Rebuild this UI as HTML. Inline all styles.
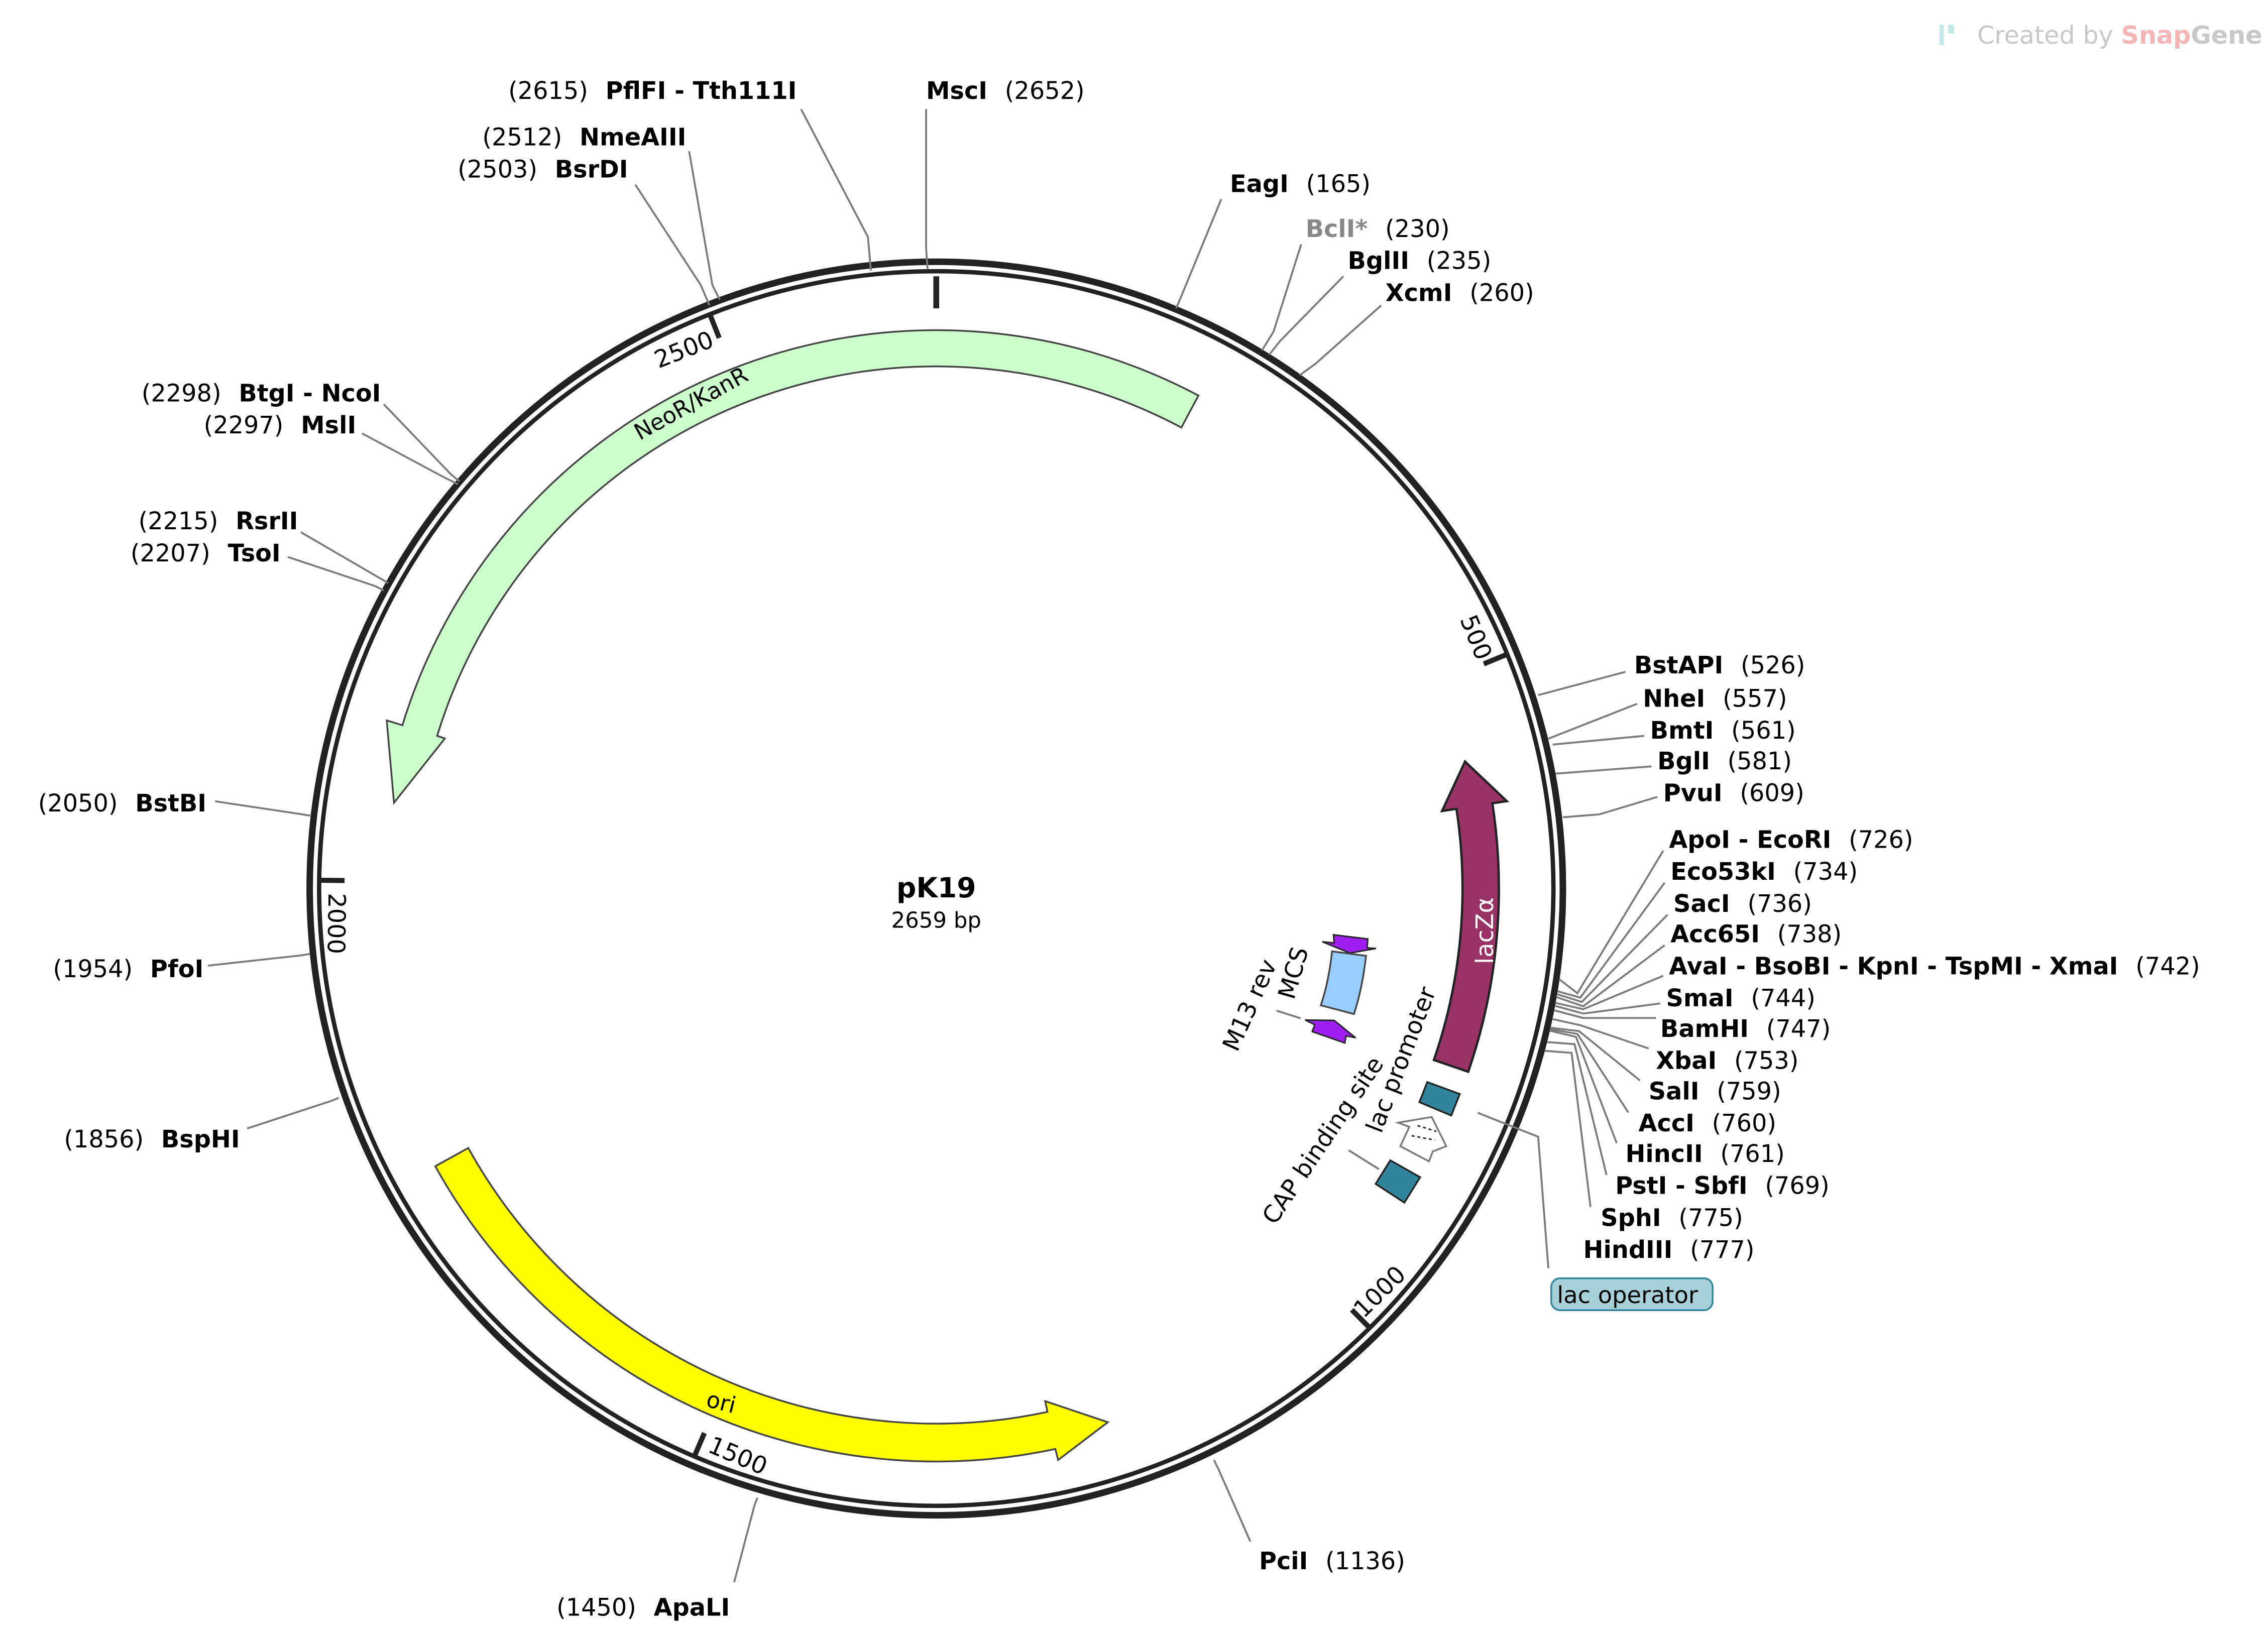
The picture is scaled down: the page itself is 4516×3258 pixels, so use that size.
<!DOCTYPE html>
<html><head><meta charset="utf-8"><style>
html,body{margin:0;padding:0;background:#fff;}
svg{display:block;}
text{font-family:"DejaVu Sans","Liberation Sans",sans-serif;font-size:16.5px;fill:#000;}
.b{font-weight:bold;}
.ln{fill:none;stroke:#7a7a7a;stroke-width:1.3;}
</style></head><body>
<svg width="4516" height="3258" viewBox="0 0 1560 1125" preserveAspectRatio="none" xmlns="http://www.w3.org/2000/svg">
<rect width="1560" height="1125" fill="#fff"/>
<!-- logo -->
<rect x="1334" y="17" width="3" height="14" fill="#bfe9ea"/><rect x="1340" y="17" width="4" height="6" fill="#bfe9ea"/>
<text x="1360" y="30" style="font-size:17px;fill:#c8c8c8">Created by <tspan style="fill:#f5b5b5;font-weight:bold">Snap</tspan><tspan style="fill:#c8c8c8;font-weight:bold">Gene</tspan></text>

<!-- backbone -->
<circle cx="644" cy="611" r="431" fill="none" stroke="#222" stroke-width="4.5"/>
<circle cx="644" cy="611" r="424.5" fill="none" stroke="#222" stroke-width="3"/>
<!-- ticks -->
<g stroke="#222" stroke-width="3.5">
<line x1="644" y1="190" x2="644" y2="212" stroke-width="4"/>
<line x1="1037.2" y1="449.7" x2="1020.6" y2="456.5"/>
<line x1="942.5" y1="913.5" x2="929.8" y2="900.7"/>
<line x1="477.4" y1="1002" x2="484.5" y2="985.4"/>
<line x1="219" y1="605.3" x2="237" y2="605.5"/>
<line x1="488.1" y1="215.7" x2="494.7" y2="232.4"/>
</g>
<g style="font-size:15px">
<text transform="translate(1016,455) rotate(67.7)" text-anchor="end">500</text>
<text transform="translate(938,907) rotate(-44.6)">1000</text>
<text transform="translate(486,998) rotate(23.1)">1500</text>
<text transform="translate(226,614) rotate(90.8)">2000</text>
<text transform="translate(492,238) rotate(-21.5)" text-anchor="end">2500</text>
</g>

<!-- features -->
<path d="M824.3,272 A384,384 0 0 0 276.8,498.7 L266,495.4 L271,552 L306,507.8 L300.7,506 A359,359 0 0 1 812.6,294 Z" fill="#ccffcc" stroke="#444" stroke-width="1.2"/>
<text transform="translate(440,303) rotate(-29)" style="font-size:15.5px">NeoR/KanR</text>

<path d="M299.4,802 A394,394 0 0 0 725.9,996.4 L727.8,1004 L762,978 L718.9,963.5 L720.5,970.9 A368,368 0 0 1 322.1,789.4 Z" fill="#ffff00" stroke="#444" stroke-width="1.2"/>
<text transform="translate(485,967) rotate(14)" style="font-size:15.5px">ori</text>

<path d="M1009.9,737 A387,387 0 0 0 1026.5,552.4 L1036.4,550.9 L1007.7,523.7 L991.9,557.7 L1001.8,556.2 A362,362 0 0 1 986.3,728.9 Z" fill="#993366" stroke="#222" stroke-width="1.6"/>
<text transform="translate(1027,663) rotate(-90)" style="font-size:16.5px;fill:#fff">lacZα</text>

<polygon points="917.2,642.8 940.8,645.7 940.4,651.8 946.5,652.2 928.5,655.4 909.5,647.6 917.7,648.4" fill="#9e1ff0" stroke="#222" stroke-width="1"/>
<polygon points="897.7,701.4 917.7,701.7 932.4,713.6 925.9,712.3 925,717.2 902.6,709.4 904.3,704.6" fill="#9e1ff0" stroke="#222" stroke-width="1"/>
<path d="M916.2,654.2 L939.6,657.3 Q937,680 931.3,697.3 L908.5,691.3 Q914,675 916.2,654.2 Z" fill="#99ccff" stroke="#444" stroke-width="1.2"/>
<polygon points="981.7,744.1 1004.1,752.3 998.2,767.1 976.3,757.9" fill="#31849b" stroke="#222" stroke-width="1.2"/>
<polygon points="961.6,772 969.4,774.9 963.2,788.2 982.9,798.6 985.5,791.8 994.8,788.2 984.8,768.1" fill="#fff" stroke="#777" stroke-width="1.2"/>
<g stroke="#222" stroke-width="1" stroke-dasharray="2,2"><line x1="971" y1="781" x2="987" y2="784"/><line x1="975" y1="774" x2="988" y2="778"/></g>
<polygon points="956.3,797.9 976.8,809.5 966,827 946.2,814.1" fill="#31849b" stroke="#222" stroke-width="1.2"/>

<text transform="translate(851,724) rotate(-65.8)" style="font-size:16.5px">M13 rev</text>
<text transform="translate(890,688) rotate(-74)" style="font-size:16.5px">MCS</text>
<text transform="translate(950,780) rotate(-69)" style="font-size:16.5px">lac promoter</text>
<text transform="translate(877,843) rotate(-56)" style="font-size:16.5px">CAP binding site</text>
<polyline class="ln" points="878,695 894.6,700.2"/>
<polyline class="ln" points="927.7,791 948.5,804"/>
<polyline class="ln" points="1016.4,765.2 1058,781.7 1065,872"/>
<rect x="1067" y="879" width="111" height="22" rx="6" fill="#a8d0d8" stroke="#31849b" stroke-width="1.2"/>
<text x="1071" y="896" style="font-size:16px">lac operator</text>

<!-- center -->
<text x="644" y="617" text-anchor="middle" class="b" style="font-size:19px">pK19</text>
<text x="644" y="638" text-anchor="middle" style="font-size:15px">2659 bp</text>

<!-- leader lines -->
<polyline class="ln" points="551,75 597,163 599,186"/>
<polyline class="ln" points="637,75 637,170 638,185"/>
<polyline class="ln" points="474,104 490,196 495,206"/>
<polyline class="ln" points="437,127 482,196 488,210"/>
<polyline class="ln" points="840,137 812,205 809,212"/>
<polyline class="ln" points="895,168 876,228 868,241"/>
<polyline class="ln" points="924,190 880,235 873,244"/>
<polyline class="ln" points="950,210 905,250 894,258"/>
<polyline class="ln" points="1118,462 1058,478"/>
<polyline class="ln" points="1126,484 1070,506 1065,508"/>
<polyline class="ln" points="1131,506 1068,512"/>
<polyline class="ln" points="1136,527 1070,532"/>
<polyline class="ln" points="1140,548 1100,560 1075,562"/>
<polyline class="ln" points="264,278 310,326 316,331"/>
<polyline class="ln" points="249,298 305,328 315,333"/>
<polyline class="ln" points="207,366 262,398 267,401"/>
<polyline class="ln" points="198,383 258,403 264,406"/>
<polyline class="ln" points="148,551 208,560 214,561"/>
<polyline class="ln" points="143,664 207,657 213,656"/>
<polyline class="ln" points="170,776 228,757 233,755"/>
<polyline class="ln" points="505,1088 519,1035 521,1030"/>
<polyline class="ln" points="860,1060 838,1010 835,1004"/>
<polyline class="ln" points="1072.5,673.4 1085,683 1144,585"/>
<polyline class="ln" points="1071.2,681.6 1087,686 1145,607"/>
<polyline class="ln" points="1070.9,683.6 1088,689 1147,629"/>
<polyline class="ln" points="1070.5,685.6 1089,692 1145,650"/>
<polyline class="ln" points="1069.8,689.6 1089,694 1144,671"/>
<polyline class="ln" points="1069.4,691.6 1089,697 1142,690"/>
<polyline class="ln" points="1068.8,694.7 1089,700 1139,700"/>
<polyline class="ln" points="1067.6,700.7 1087,705 1134,721"/>
<polyline class="ln" points="1066.3,706.7 1086,709 1128,743"/>
<polyline class="ln" points="1066.1,707.7 1085,711 1120,765"/>
<polyline class="ln" points="1065.9,708.7 1084,713 1112,786"/>
<polyline class="ln" points="1064,716.6 1083,718 1105,808"/>
<polyline class="ln" points="1062.4,722.6 1081,724 1094,830"/>

<!-- labels -->
<g>
<text x="548" y="68" text-anchor="end">(2615)<tspan dx="12" class="b">PflFI - Tth111I</tspan></text>
<text x="472" y="100" text-anchor="end">(2512)<tspan dx="12" class="b">NmeAIII</tspan></text>
<text x="432" y="122" text-anchor="end">(2503)<tspan dx="12" class="b">BsrDI</tspan></text>
<text x="262" y="276" text-anchor="end">(2298)<tspan dx="12" class="b">BtgI - NcoI</tspan></text>
<text x="245" y="298" text-anchor="end">(2297)<tspan dx="12" class="b">MslI</tspan></text>
<text x="205" y="364" text-anchor="end">(2215)<tspan dx="12" class="b">RsrII</tspan></text>
<text x="193" y="386" text-anchor="end">(2207)<tspan dx="12" class="b">TsoI</tspan></text>
<text x="142" y="558" text-anchor="end">(2050)<tspan dx="12" class="b">BstBI</tspan></text>
<text x="140" y="672" text-anchor="end">(1954)<tspan dx="12" class="b">PfoI</tspan></text>
<text x="165" y="789" text-anchor="end">(1856)<tspan dx="12" class="b">BspHI</tspan></text>
<text x="502" y="1111" text-anchor="end">(1450)<tspan dx="12" class="b">ApaLI</tspan></text>

<text x="637" y="68"><tspan class="b">MscI</tspan><tspan dx="12">(2652)</tspan></text>
<text x="846" y="132"><tspan class="b">EagI</tspan><tspan dx="12">(165)</tspan></text>
<text x="898" y="163"><tspan class="b" style="fill:#888">BclI*</tspan><tspan dx="12">(230)</tspan></text>
<text x="927" y="185"><tspan class="b">BglII</tspan><tspan dx="12">(235)</tspan></text>
<text x="953" y="207"><tspan class="b">XcmI</tspan><tspan dx="12">(260)</tspan></text>
<text x="1124" y="463"><tspan class="b">BstAPI</tspan><tspan dx="12">(526)</tspan></text>
<text x="1130" y="486"><tspan class="b">NheI</tspan><tspan dx="12">(557)</tspan></text>
<text x="1135" y="508"><tspan class="b">BmtI</tspan><tspan dx="12">(561)</tspan></text>
<text x="1140" y="529"><tspan class="b">BglI</tspan><tspan dx="12">(581)</tspan></text>
<text x="1144" y="551"><tspan class="b">PvuI</tspan><tspan dx="12">(609)</tspan></text>
<text x="1148" y="583"><tspan class="b">ApoI - EcoRI</tspan><tspan dx="12">(726)</tspan></text>
<text x="1149" y="605"><tspan class="b">Eco53kI</tspan><tspan dx="12">(734)</tspan></text>
<text x="1151" y="627"><tspan class="b">SacI</tspan><tspan dx="12">(736)</tspan></text>
<text x="1149" y="648"><tspan class="b">Acc65I</tspan><tspan dx="12">(738)</tspan></text>
<text x="1148" y="670"><tspan class="b">AvaI - BsoBI - KpnI - TspMI - XmaI</tspan><tspan dx="12">(742)</tspan></text>
<text x="1146" y="692"><tspan class="b">SmaI</tspan><tspan dx="12">(744)</tspan></text>
<text x="1142" y="713"><tspan class="b">BamHI</tspan><tspan dx="12">(747)</tspan></text>
<text x="1139" y="735"><tspan class="b">XbaI</tspan><tspan dx="12">(753)</tspan></text>
<text x="1134" y="756"><tspan class="b">SalI</tspan><tspan dx="12">(759)</tspan></text>
<text x="1127" y="778"><tspan class="b">AccI</tspan><tspan dx="12">(760)</tspan></text>
<text x="1118" y="799"><tspan class="b">HincII</tspan><tspan dx="12">(761)</tspan></text>
<text x="1111" y="821"><tspan class="b">PstI - SbfI</tspan><tspan dx="12">(769)</tspan></text>
<text x="1101" y="843"><tspan class="b">SphI</tspan><tspan dx="12">(775)</tspan></text>
<text x="1089" y="865"><tspan class="b">HindIII</tspan><tspan dx="12">(777)</tspan></text>
<text x="866" y="1079"><tspan class="b">PciI</tspan><tspan dx="12">(1136)</tspan></text>
</g>
</svg>
</body></html>
